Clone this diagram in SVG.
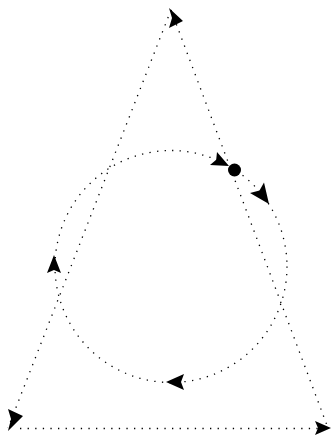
<svg xmlns="http://www.w3.org/2000/svg" width="332" height="436" viewBox="0 0 332 436">
  <style>
    .dotted { fill: none; stroke: #000; stroke-width: 1.3; stroke-dasharray: 1.3 6.3; }
    .head { fill: #000; stroke: none; }
  </style>
  <rect width="332" height="436" fill="#fff"/>
  <g id="connectors">
    <path class="dotted" d="M171,10 L8,428"/>
    <path class="dotted" d="M171,10 L328,428"/>
    <path class="dotted" d="M20,428.5 L322,428.5"/>
    <circle class="dotted" cx="171" cy="266.5" r="116"/>
  </g>
  <g id="arrowheads">
    <path class="head" d="M183,21 L169,8 L172,18 L169,28 Z"/>
    <path class="head" d="M23,416 L8,409 L11,419 L8,431 Z"/>
    <path class="head" d="M331,428 L315,421 L318,428 L315,435 Z"/>
    <path class="head" d="M229,166 L217,152 L216.2,159.8 L210,165 Z"/>
    <path class="head" d="M269,204 L264,182.5 L259.5,190.5 L250,193 Z"/>
    <path class="head" d="M54,255 L47,273 L54,270 L61,273 Z"/>
    <path class="head" d="M166,382 L184,374 L181,382 L184,390 Z"/>
  </g>
  <g id="node-dot">
    <circle cx="234.5" cy="170" r="6.5" fill="#000"/>
  </g>
</svg>
